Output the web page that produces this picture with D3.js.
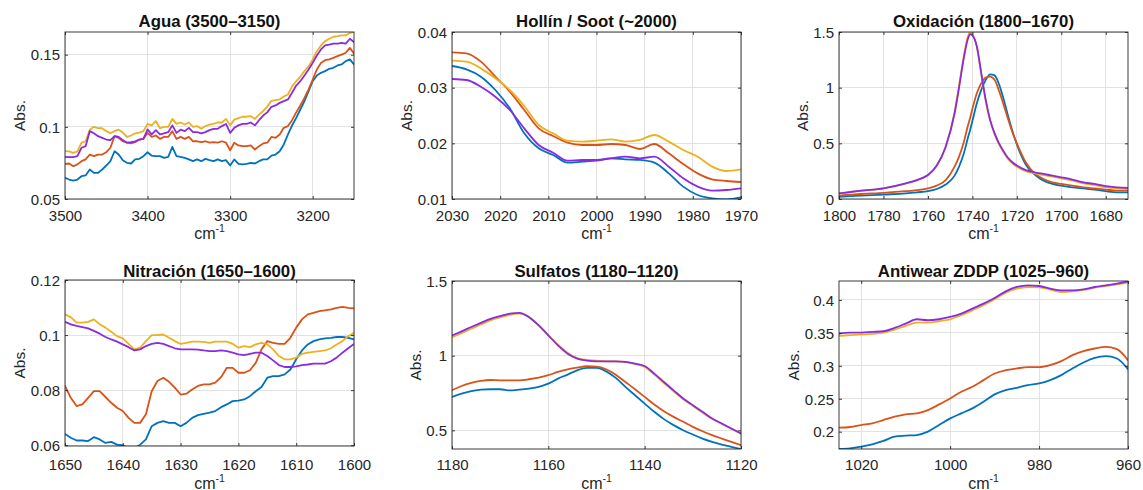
<!DOCTYPE html>
<html>
<head>
<meta charset="utf-8">
<script src="https://cdn.jsdelivr.net/npm/d3@7"></script>
<style>
  html, body { margin: 0; padding: 0; background: #fff; }
  svg { display: block; font-family: "Liberation Sans", Arial, Helvetica, sans-serif; }
</style>
</head>
<body>
<svg id="chart" width="1143" height="490"></svg>
<script>
// ---------- spectral windows: wavenumber grids (cm-1) ----------
const aguaWn   = d3.range(3500, 3149, -5);
const hollinWn = d3.range(2030, 1969, -3);
const oxidWn   = [1800, 1790, 1780, 1770, 1765, 1760, 1756, 1752, 1748, 1746, 1744, 1742, 1741, 1740, 1738, 1736, 1734, 1732, 1730, 1728,
                  1726, 1724, 1722, 1720, 1716, 1712, 1708, 1704, 1700, 1695, 1690, 1685, 1680, 1675, 1670];
const nitrWn   = d3.range(1650, 1599, -1);
const sulfWn   = d3.range(1180, 1119, -2);
const zddpWn   = d3.range(1025, 959, -2.5);

// ---------- absorbance, four oil samples per window ----------
// Agua (3500-3150)
const aguaBlue = [0.0647,0.0635,0.0628,0.0635,0.0658,0.0663,0.0704,0.0681,0.0681,0.0704,
  0.0732,0.0762,0.0831,0.0808,0.0769,0.0751,0.0746,0.0774,0.0778,0.0797,
  0.0824,0.0800,0.0797,0.0797,0.0785,0.0792,0.0861,0.0797,0.0792,0.0785,
  0.0774,0.0762,0.0774,0.0762,0.0778,0.0769,0.0762,0.0774,0.0762,0.0769,
  0.0732,0.0774,0.0744,0.0740,0.0744,0.0751,0.0746,0.0762,0.0774,0.0774,
  0.0801,0.0808,0.0831,0.0878,0.0947,0.1009,0.1062,0.1120,0.1178,0.1247,
  0.1316,0.1356,0.1374,0.1386,0.1402,0.1409,0.1425,0.1432,0.1455,0.1467,0.1432];
const aguaOrange = [0.0744,0.0746,0.0727,0.0740,0.0762,0.0774,0.0808,0.0797,0.0808,0.0808,
  0.0824,0.0855,0.0935,0.0924,0.0900,0.0890,0.0885,0.0894,0.0912,0.0917,
  0.0958,0.0930,0.0940,0.0917,0.0930,0.0930,0.0970,0.0917,0.0930,0.0917,
  0.0930,0.0900,0.0900,0.0894,0.0900,0.0890,0.0894,0.0890,0.0900,0.0890,
  0.0838,0.0890,0.0871,0.0866,0.0866,0.0871,0.0843,0.0866,0.0885,0.0890,
  0.0930,0.0924,0.0947,0.0993,0.1005,0.1046,0.1100,0.1148,0.1200,0.1259,
  0.1328,0.1397,0.1443,0.1462,0.1467,0.1478,0.1490,0.1500,0.1513,0.1547,0.1508];
const aguaYellow = [0.0831,0.0830,0.0820,0.0830,0.0890,0.0900,0.0980,0.1000,0.0990,0.0990,
  0.0970,0.0955,0.0970,0.0980,0.0960,0.0930,0.0940,0.0955,0.0960,0.0970,
  0.1020,0.1010,0.1040,0.0990,0.1000,0.1000,0.1055,0.1020,0.1030,0.1016,
  0.1030,0.1000,0.1005,0.0986,0.1005,0.1016,0.1020,0.1030,0.1030,0.1055,
  0.1010,0.1050,0.1060,0.1070,0.1070,0.1074,0.1055,0.1085,0.1110,0.1140,
  0.1180,0.1185,0.1190,0.1210,0.1224,0.1280,0.1316,0.1346,0.1386,0.1420,
  0.1467,0.1524,0.1564,0.1594,0.1610,0.1624,0.1628,0.1633,0.1633,0.1650,0.1658];
const aguaPurple = [0.0792,0.0790,0.0790,0.0797,0.0855,0.0866,0.0970,0.0955,0.0935,0.0924,
  0.0912,0.0908,0.0935,0.0930,0.0908,0.0890,0.0894,0.0900,0.0912,0.0917,
  0.0982,0.0947,0.0977,0.0947,0.0954,0.0963,0.1010,0.0958,0.0980,0.0970,
  0.0993,0.0963,0.0963,0.0954,0.0963,0.0977,0.0986,0.0986,0.1005,0.1020,
  0.0958,0.0993,0.1010,0.1020,0.1020,0.1030,0.1010,0.1046,0.1078,0.1100,
  0.1139,0.1148,0.1166,0.1178,0.1190,0.1236,0.1286,0.1316,0.1356,0.1397,
  0.1443,0.1494,0.1536,0.1564,0.1570,0.1577,0.1577,0.1582,0.1577,0.1610,0.1587];

// Hollín / Soot (~2000)
const hollinBlue   = [0.03389,0.03329,0.03198,0.02958,0.02629,0.0218,0.0191,0.0179,0.01653,0.01671,0.01689,
  0.01731,0.01713,0.01701,0.01653,0.01461,0.01222,0.01072,0.01012,0.00994,0.0103];
const hollinOrange = [0.03635,0.03617,0.03467,0.03198,0.02928,0.02599,0.02269,0.02132,0.02012,0.0197,0.0197,
  0.01988,0.0197,0.01898,0.01988,0.0182,0.01629,0.01461,0.01353,0.01323,0.01305];
const hollinYellow = [0.03485,0.03467,0.03347,0.03168,0.02958,0.02671,0.02329,0.0218,0.02048,0.0203,0.02048,
  0.02072,0.0203,0.0206,0.0215,0.0203,0.0188,0.0176,0.01581,0.01503,0.01533];
const hollinPurple = [0.03156,0.03138,0.03018,0.02838,0.02599,0.02269,0.0197,0.01832,0.01689,0.01701,0.01701,
  0.01731,0.0176,0.01731,0.0176,0.01581,0.01371,0.01222,0.0115,0.01162,0.01192];

// Oxidación (1800-1670)
const oxidBlue   = [0.02,0.03,0.04,0.05,0.06,0.07,0.09,0.13,0.21,0.29,0.40,0.55,0.62,0.70,0.86,0.98,1.07,1.12,1.11,1.03,
  0.90,0.75,0.61,0.49,0.31,0.22,0.165,0.135,0.12,0.105,0.095,0.085,0.07,0.06,0.06];
const oxidOrange = [0.03,0.045,0.055,0.07,0.08,0.095,0.12,0.17,0.29,0.38,0.50,0.66,0.73,0.81,0.95,1.04,1.09,1.10,1.07,0.97,
  0.85,0.72,0.60,0.50,0.33,0.23,0.18,0.15,0.135,0.12,0.105,0.095,0.085,0.075,0.075];
const oxidYellow = [0.05,0.074,0.095,0.138,0.168,0.213,0.30,0.47,0.78,1.02,1.27,1.46,1.50,1.48,1.37,1.12,0.88,0.70,0.58,0.49,
  0.42,0.36,0.32,0.29,0.25,0.23,0.215,0.20,0.185,0.165,0.14,0.125,0.105,0.095,0.09];
const oxidPurple = [0.05,0.075,0.096,0.14,0.17,0.215,0.30,0.47,0.77,1.00,1.25,1.44,1.48,1.47,1.37,1.13,0.89,0.71,0.59,0.50,
  0.43,0.37,0.33,0.30,0.26,0.24,0.225,0.21,0.195,0.175,0.15,0.135,0.115,0.105,0.10];

// Nitración (1650-1600)
const nitrBlue = [0.0641,0.0627,0.0617,0.0617,0.0615,0.0629,0.0621,0.0608,0.0612,0.0602,
  0.0600,0.0588,0.0588,0.0602,0.0621,0.0669,0.0681,0.0687,0.0681,0.0681,
  0.0669,0.0681,0.0699,0.0709,0.0714,0.0718,0.0724,0.0738,0.0748,0.0760,
  0.0762,0.0766,0.0778,0.0796,0.0811,0.0845,0.0851,0.0851,0.0857,0.0875,
  0.0912,0.0944,0.0966,0.0978,0.0984,0.0988,0.0990,0.0993,0.0993,0.0990,0.0984];
const nitrOrange = [0.0815,0.0772,0.0742,0.0748,0.0772,0.0796,0.0796,0.0775,0.0754,0.0736,
  0.0724,0.0699,0.0681,0.0681,0.0712,0.0796,0.0833,0.0845,0.0830,0.0809,
  0.0784,0.0787,0.0802,0.0815,0.0821,0.0821,0.0827,0.0847,0.0881,0.0881,
  0.0863,0.0863,0.0872,0.0899,0.0948,0.0978,0.0972,0.0968,0.0968,0.0990,
  0.1027,0.1057,0.1075,0.1081,0.1087,0.1090,0.1093,0.1099,0.1102,0.1099,0.1097];
const nitrYellow = [0.1075,0.1065,0.1045,0.1045,0.1048,0.1057,0.1039,0.1027,0.1012,0.0996,
  0.0988,0.0968,0.0948,0.0954,0.0978,0.1000,0.1000,0.1002,0.0990,0.0978,
  0.0968,0.0972,0.0976,0.0976,0.0975,0.0972,0.0976,0.0976,0.0976,0.0968,
  0.0954,0.0960,0.0956,0.0966,0.0972,0.0966,0.0948,0.0924,0.0912,0.0912,
  0.0918,0.0932,0.0936,0.0939,0.0942,0.0944,0.0952,0.0966,0.0978,0.0996,0.1008];
const nitrPurple = [0.1048,0.1039,0.1033,0.1029,0.1024,0.1015,0.1005,0.0993,0.0984,0.0976,
  0.0966,0.0956,0.0944,0.0948,0.0960,0.0968,0.0972,0.0968,0.0960,0.0952,
  0.0948,0.0948,0.0948,0.0947,0.0944,0.0942,0.0942,0.0944,0.0942,0.0936,
  0.0930,0.0927,0.0932,0.0936,0.0936,0.0924,0.0908,0.0891,0.0884,0.0884,
  0.0886,0.0891,0.0893,0.0896,0.0896,0.0896,0.0905,0.0918,0.0936,0.0952,0.0968];

// Sulfatos (1180-1120)
const sulfBlue   = [0.724,0.746,0.762,0.773,0.775,0.775,0.768,0.773,0.780,0.791,0.813,0.846,0.873,0.902,0.918,0.918,
  0.895,0.851,0.791,0.735,0.679,0.624,0.575,0.535,0.501,0.472,0.445,0.423,0.405,0.390,0.374];
const sulfOrange = [0.768,0.797,0.817,0.831,0.837,0.835,0.835,0.835,0.842,0.853,0.869,0.891,0.909,0.920,0.929,0.927,
  0.909,0.873,0.824,0.775,0.724,0.673,0.628,0.590,0.557,0.523,0.494,0.468,0.445,0.423,0.401];
const sulfYellow = [1.122,1.151,1.180,1.209,1.236,1.256,1.274,1.281,1.258,1.203,1.136,1.073,1.020,0.984,0.971,0.967,
  0.962,0.962,0.958,0.944,0.924,0.873,0.817,0.762,0.708,0.664,0.619,0.577,0.543,0.510,0.477];
const sulfPurple = [1.136,1.163,1.192,1.220,1.247,1.265,1.281,1.287,1.258,1.203,1.136,1.069,1.013,0.980,0.967,0.962,
  0.962,0.962,0.958,0.947,0.931,0.880,0.824,0.768,0.713,0.668,0.624,0.579,0.546,0.512,0.479];

// Antiwear ZDDP (1025-960)
const zddpBlue   = [0.1737,0.1747,0.1773,0.1808,0.1859,0.1924,0.1939,0.1949,0.2000,0.2101,0.2202,0.2278,0.2354,0.2455,
  0.2566,0.2631,0.2667,0.2707,0.2732,0.2783,0.2859,0.2960,0.3051,0.3121,0.3146,0.3111,0.2949];
const zddpOrange = [0.2061,0.2071,0.2101,0.2126,0.2177,0.2227,0.2263,0.2278,0.2328,0.2414,0.2505,0.2606,0.2682,0.2783,
  0.2884,0.2934,0.2960,0.2980,0.2980,0.3010,0.3071,0.3162,0.3222,0.3263,0.3288,0.3253,0.3086];
const zddpYellow = [0.3455,0.3465,0.3475,0.3485,0.3505,0.3551,0.3606,0.3657,0.3657,0.3677,0.3707,0.3768,0.3843,0.3919,
  0.4010,0.4111,0.4172,0.4197,0.4192,0.4157,0.4121,0.4131,0.4152,0.4187,0.4212,0.4237,0.4263];
const zddpPurple = [0.3490,0.3505,0.3505,0.3515,0.3525,0.3576,0.3641,0.3707,0.3692,0.3707,0.3742,0.3793,0.3869,0.3944,
  0.4030,0.4131,0.4197,0.4222,0.4212,0.4172,0.4146,0.4146,0.4162,0.4197,0.4222,0.4247,0.4283];

// ---------- titles and tick labels ----------
const titles = ["Agua (3500\u20133150)", "Holl\u00edn / Soot (~2000)", "Oxidaci\u00f3n (1800\u20131670)",
                "Nitraci\u00f3n (1650\u20131600)", "Sulfatos (1180\u20131120)", "Antiwear ZDDP (1025\u2013960)"];
const aguaXTicks = [3500, 3400, 3300, 3200],                aguaYTicks = [0.05, 0.1, 0.15];
const hollinXTicks = [2030, 2020, 2010, 2000, 1990, 1980, 1970], hollinYTicks = [0.01, 0.02, 0.03, 0.04];
const oxidXTicks = [1800, 1780, 1760, 1740, 1720, 1700, 1680], oxidYTicks = [0, 0.5, 1, 1.5];
const nitrXTicks = [1650, 1640, 1630, 1620, 1610, 1600],     nitrYTicks = [0.06, 0.08, 0.1, 0.12];
const sulfXTicks = [1180, 1160, 1140, 1120],                 sulfYTicks = [0.5, 1, 1.5];
const zddpXTicks = [1020, 1000, 980, 960],                   zddpYTicks = [0.2, 0.25, 0.3, 0.35, 0.4];

const seriesColors = ["#0072BD", "#D95319", "#EDB120", "#8A2BE2"];

// ---------- panel table ----------
const panels = [
  { wn: aguaWn,   series: [aguaBlue, aguaOrange, aguaYellow, aguaPurple],         xDomain: [3500, 3150], yDomain: [0.05, 0.1657],  xTicks: aguaXTicks,   yTicks: aguaYTicks,   curve: d3.curveLinear },
  { wn: hollinWn, series: [hollinBlue, hollinOrange, hollinYellow, hollinPurple], xDomain: [2030, 1970], yDomain: [0.01, 0.04],    xTicks: hollinXTicks, yTicks: hollinYTicks, curve: d3.curveMonotoneX },
  { wn: oxidWn,   series: [oxidBlue, oxidOrange, oxidYellow, oxidPurple],         xDomain: [1800, 1670], yDomain: [0, 1.5],        xTicks: oxidXTicks,   yTicks: oxidYTicks,   curve: d3.curveMonotoneX },
  { wn: nitrWn,   series: [nitrBlue, nitrOrange, nitrYellow, nitrPurple],         xDomain: [1650, 1600], yDomain: [0.0597, 0.12],  xTicks: nitrXTicks,   yTicks: nitrYTicks,   curve: d3.curveLinear },
  { wn: sulfWn,   series: [sulfBlue, sulfOrange, sulfYellow, sulfPurple],         xDomain: [1180, 1120], yDomain: [0.375, 1.5],    xTicks: sulfXTicks,   yTicks: sulfYTicks,   curve: d3.curveMonotoneX },
  { wn: zddpWn,   series: [zddpBlue, zddpOrange, zddpYellow, zddpPurple],         xDomain: [1025, 960],  yDomain: [0.1737, 0.4288], xTicks: zddpXTicks,  yTicks: zddpYTicks,   curve: d3.curveMonotoneX }
];

// axes boxes and text baselines for the 2x3 grid
const layout = [
  { left: 65,  right: 354,  top: 32,  bottom: 199, titleY: 26.5, tickY: 220.5, labelY: 238.5 },
  { left: 452, right: 741,  top: 32,  bottom: 199, titleY: 26.5, tickY: 220.5, labelY: 238.5 },
  { left: 839, right: 1128, top: 32,  bottom: 199, titleY: 26.5, tickY: 220.5, labelY: 238.5 },
  { left: 65,  right: 354,  top: 280, bottom: 446, titleY: 277,  tickY: 470,   labelY: 488.5 },
  { left: 452, right: 741,  top: 281, bottom: 449, titleY: 277,  tickY: 470,   labelY: 488.5 },
  { left: 839, right: 1128, top: 281, bottom: 449, titleY: 277,  tickY: 470,   labelY: 488.5 }
];

const fmt = d => String(+(+d).toFixed(4));
const svg = d3.select("#chart");
const defs = svg.append("defs");
const axisColor = "#262626";
const gridColor = "#e2e2e2";

panels.forEach((p, i) => {
  const L = layout[i];
  const w = L.right - L.left, h = L.bottom - L.top;
  const x = d3.scaleLinear().domain(p.xDomain).range([L.left, L.right]);
  const y = d3.scaleLinear().domain(p.yDomain).range([L.bottom, L.top]);
  const g = svg.append("g");

  // grid
  g.append("g").selectAll("line").data(p.xTicks).join("line")
    .attr("x1", d => x(d)).attr("x2", d => x(d)).attr("y1", L.top).attr("y2", L.bottom)
    .attr("stroke", gridColor).attr("stroke-width", 1).attr("shape-rendering", "crispEdges");
  g.append("g").selectAll("line").data(p.yTicks).join("line")
    .attr("y1", d => y(d)).attr("y2", d => y(d)).attr("x1", L.left).attr("x2", L.right)
    .attr("stroke", gridColor).attr("stroke-width", 1).attr("shape-rendering", "crispEdges");

  // spectra, clipped to the axes box
  defs.append("clipPath").attr("id", "clip" + i)
    .append("rect").attr("x", L.left).attr("y", L.top).attr("width", w).attr("height", h);
  const line = d3.line().x((d, j) => x(p.wn[j])).y(d => y(d)).curve(p.curve);
  const lines = g.append("g").attr("clip-path", `url(#clip${i})`);
  p.series.forEach((s, k) => {
    lines.append("path").attr("d", line(s)).attr("fill", "none")
      .attr("stroke", seriesColors[k]).attr("stroke-width", 1.8)
      .attr("stroke-linejoin", "round").attr("stroke-linecap", "round");
  });

  // box
  g.append("rect").attr("x", L.left).attr("y", L.top).attr("width", w).attr("height", h)
    .attr("fill", "none").attr("stroke", axisColor).attr("stroke-width", 0.9);

  const styleAxis = sel => {
    sel.attr("font-size", null).attr("font-family", null).attr("color", axisColor);
    sel.select(".domain").remove();
    sel.selectAll(".tick line").attr("stroke-width", 0.9);
    sel.selectAll("text").attr("font-size", 15).attr("fill", axisColor);
  };

  // inward ticks on all four sides
  const axB = g.append("g").attr("transform", `translate(0,${L.bottom})`)
    .call(d3.axisBottom(x).tickValues(p.xTicks).tickSize(-3).tickFormat(fmt)).call(styleAxis);
  axB.selectAll("text").attr("y", L.tickY - L.bottom).attr("dy", null);
  g.append("g").attr("transform", `translate(0,${L.top})`)
    .call(d3.axisTop(x).tickValues(p.xTicks).tickSize(-3).tickFormat("")).call(styleAxis);
  const axL = g.append("g").attr("transform", `translate(${L.left},0)`)
    .call(d3.axisLeft(y).tickValues(p.yTicks).tickSize(-3).tickFormat(fmt)).call(styleAxis);
  axL.selectAll("text").attr("x", -5).attr("dy", "0.35em");
  g.append("g").attr("transform", `translate(${L.right},0)`)
    .call(d3.axisRight(y).tickValues(p.yTicks).tickSize(-3).tickFormat("")).call(styleAxis);

  // title
  g.append("text").attr("x", (L.left + L.right) / 2).attr("y", L.titleY)
    .attr("text-anchor", "middle").attr("font-size", 16.8).attr("font-weight", "bold")
    .attr("fill", "#111").text(titles[i]);

  // x label: cm^-1
  const xl = g.append("text").attr("x", (L.left + L.right) / 2).attr("y", L.labelY)
    .attr("text-anchor", "middle").attr("font-size", 16).attr("fill", axisColor);
  xl.append("tspan").text("cm");
  xl.append("tspan").attr("font-size", 10.5).attr("dy", -7).text("-1");

  // y label, placed just left of the widest tick label
  let minX = Infinity;
  axL.selectAll("text").each(function () { minX = Math.min(minX, this.getBBox().x); });
  const yl = L.left + minX - 5.5;
  g.append("text").attr("transform", `translate(${yl},${(L.top + L.bottom) / 2}) rotate(-90)`)
    .attr("text-anchor", "middle").attr("font-size", 15.5).attr("fill", axisColor).text("Abs.");
});
</script>
</body>
</html>
